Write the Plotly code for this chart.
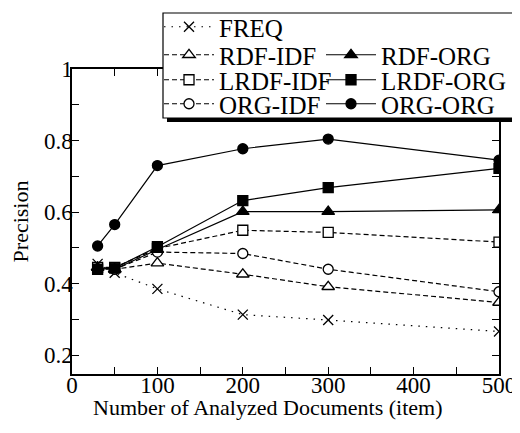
import plotly.graph_objects as go

docs = [30, 50, 100, 200, 300, 500]
freq = [0.455, 0.43, 0.385, 0.313, 0.298, 0.266]
rdf_idf = [0.445, 0.44, 0.457, 0.426, 0.391, 0.347]
lrdf_idf = [0.445, 0.445, 0.498, 0.549, 0.543, 0.516]
org_idf = [0.44, 0.44, 0.488, 0.484, 0.44, 0.377]
rdf_org = [0.445, 0.44, 0.495, 0.601, 0.601, 0.606]
lrdf_org = [0.44, 0.443, 0.503, 0.632, 0.668, 0.722]
org_org = [0.505, 0.565, 0.73, 0.777, 0.804, 0.745]

x_ticks = [0, 100, 200, 300, 400, 500]
y_ticks = [0.2, 0.4, 0.6, 0.8, 1.0]
y_ticktext = ["0.2", "0.4", "0.6", "0.8", "1"]
x_title = "Number of Analyzed Documents (item)"
y_title = "Precision"

FONT = "Liberation Serif, Times New Roman, serif"

series = [
    ("FREQ", freq, "1.5px,6px", "x-thin", "black", 10, "legend"),
    ("RDF-IDF", rdf_idf, "5px,3px", "triangle-up", "white", 11, "legend2"),
    ("LRDF-IDF", lrdf_idf, "5px,3px", "square", "white", 10, "legend3"),
    ("ORG-IDF", org_idf, "5px,3px", "circle", "white", 10, "legend4"),
    ("RDF-ORG", rdf_org, "solid", "triangle-up", "black", 11, "legend5"),
    ("LRDF-ORG", lrdf_org, "solid", "square", "black", 10, "legend6"),
    ("ORG-ORG", org_org, "solid", "circle", "black", 10, "legend7"),
]

fig = go.Figure()
for name, vals, dash, sym, fill, size, lg in series:
    fig.add_trace(go.Scatter(
        x=docs, y=vals, name=name, mode="lines+markers", legend=lg,
        line=dict(color="black", width=1.2, dash=dash),
        marker=dict(symbol=sym, size=size, color=fill,
                    line=dict(color="black", width=1.3)),
    ))

# page has an 8px body margin; figure is 512x425 placed at (8, 8).
# plot domain in page px: x 72..499, y 69..374
def px_x(p):
    return (p - 72) / 427.0

def px_y(p):
    return (374 - p) / 305.0

legend_common = dict(xanchor="left", yanchor="middle", bgcolor="rgba(0,0,0,0)",
                     borderwidth=0, itemwidth=50,
                     font=dict(family=FONT, size=25, color="black"))
rows = [27, 55, 80, 104]
c1, c2 = 159, 321
layout_legends = {
    "legend": dict(x=px_x(c1), y=px_y(rows[0]), **legend_common),
    "legend2": dict(x=px_x(c1), y=px_y(rows[1]), **legend_common),
    "legend3": dict(x=px_x(c1), y=px_y(rows[2]), **legend_common),
    "legend4": dict(x=px_x(c1), y=px_y(rows[3]), **legend_common),
    "legend5": dict(x=px_x(c2), y=px_y(rows[1]), **legend_common),
    "legend6": dict(x=px_x(c2), y=px_y(rows[2]), **legend_common),
    "legend7": dict(x=px_x(c2), y=px_y(rows[3]), **legend_common),
}

axis_common = dict(
    showline=True, linecolor="black", linewidth=1.5, mirror="ticks",
    ticks="inside", ticklen=7, tickwidth=1.2, tickcolor="black",
    showgrid=False, zeroline=False, automargin=False,
    tickfont=dict(family=FONT, size=23, color="black"),
)

fig.update_layout(
    width=512, height=425,
    margin=dict(l=64, r=21, t=61, b=59, autoexpand=False),
    paper_bgcolor="white", plot_bgcolor="white",
    font=dict(family=FONT, size=23, color="black"),
    showlegend=True,
    xaxis=dict(range=[0, 500], tickvals=x_ticks, ticklabelstandoff=-10,
               minor=dict(dtick=50, ticks="inside", ticklen=7, tickcolor="black", tickwidth=1.2),
               **axis_common),
    yaxis=dict(range=[0.147, 1], tickvals=y_ticks, ticktext=y_ticktext, ticklabelstandoff=-7,
               minor=dict(dtick=0.1, tick0=0, ticks="inside", ticklen=7, tickcolor="black", tickwidth=1.2),
               title=dict(text=y_title, font=dict(family=FONT, size=22), standoff=14),
               **axis_common),
    annotations=[
        dict(text=x_title, xref="paper", yref="paper", x=px_x(267.5), y=px_y(407),
             xanchor="center", yanchor="middle", showarrow=False,
             font=dict(family=FONT, size=22, color="black")),
    ],
    shapes=[
        dict(type="rect", xref="paper", yref="paper", layer="above",
             x0=px_x(167), x1=px_x(521), y0=px_y(122), y1=px_y(17),
             fillcolor="black", line=dict(width=0)),
        dict(type="rect", xref="paper", yref="paper", layer="above",
             x0=px_x(163), x1=px_x(517), y0=px_y(118), y1=px_y(13),
             fillcolor="white", line=dict(color="black", width=1.2)),
    ],
    **layout_legends,
)

fig.write_html("out.html")
